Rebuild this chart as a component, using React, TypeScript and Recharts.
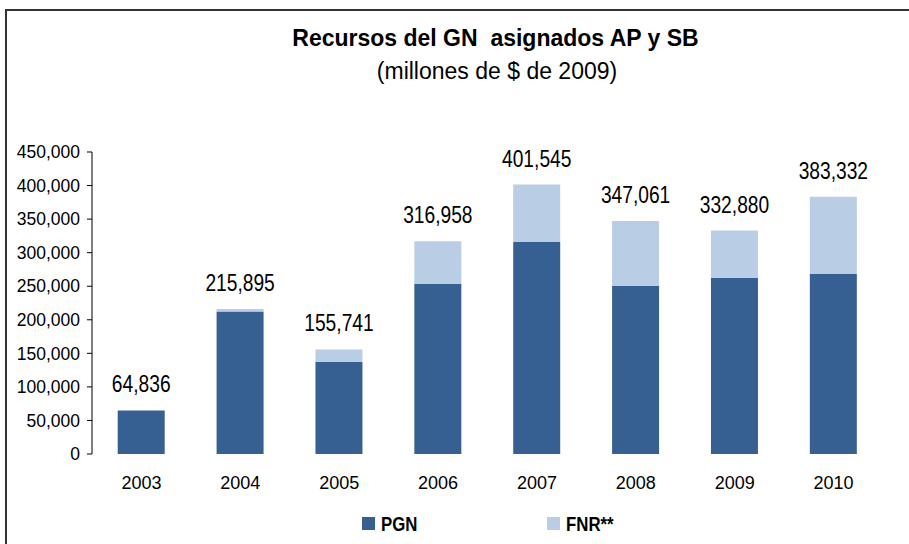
import { Bar, BarChart, LabelList, XAxis, YAxis } from "recharts";

const years = ["2003", "2004", "2005", "2006", "2007", "2008", "2009", "2010"];
const pgn = [64836, 212500, 137500, 253500, 316000, 250800, 262700, 268200];
const totals = [64836, 215895, 155741, 316958, 401545, 347061, 332880, 383332];
const yTicks = [0, 50000, 100000, 150000, 200000, 250000, 300000, 350000, 400000, 450000];
const edgeTicks = [0, 1, 2, 3, 4, 5, 6, 7, 8];

const PGN_COLOR = "#376092";
const FNR_COLOR = "#b9cde5";
const FONT = '"Liberation Sans", Arial, sans-serif';

const data = years.map((y, i) => ({
  year: y,
  pgn: pgn[i],
  fnr: totals[i] - pgn[i],
  total: totals[i],
}));

const fmt = (v: number) => v.toLocaleString("en-US");

// total label sits above the whole stack; drawn from the PGN bar so 2003 (no FNR) gets one too
function TotalLabel(props: any) {
  const { x, y, width, height, index } = props;
  const pxPerUnit = height / pgn[index];
  const top = y - (totals[index] - pgn[index]) * pxPerUnit;
  const cx = x + width / 2;
  const cy = top - 18;
  return (
    <text
      transform={`translate(${cx},${cy}) scale(0.8,1)`}
      x={0}
      y={0}
      textAnchor="middle"
      fill="#000"
      fontSize={24}
      fontFamily={FONT}
    >
      {fmt(totals[index])}
    </text>
  );
}

export default function App() {
  return (
    <div
      style={{
        position: "absolute",
        left: 0,
        top: 0,
        width: 909,
        height: 544,
        background: "#fff",
        overflow: "hidden",
        fontFamily: FONT,
      }}
    >
      {/* frame, only top and left edges show */}
      <div
        style={{
          position: "absolute",
          left: 5,
          top: 9,
          width: 920,
          height: 560,
          borderTop: "2px solid #333",
          borderLeft: "2px solid #333",
        }}
      />
      <div
        style={{
          position: "absolute",
          left: 0,
          width: 991,
          top: 25,
          textAlign: "center",
          fontSize: 23,
          fontWeight: "bold",
          color: "#000",
          whiteSpace: "pre",
        }}
      >
        {"Recursos del GN  asignados AP y SB"}
      </div>
      <div
        style={{
          position: "absolute",
          left: 0,
          width: 994,
          top: 58,
          textAlign: "center",
          fontSize: 23,
          color: "#000",
        }}
      >
        (millones de $ de 2009)
      </div>

      <BarChart
        width={909}
        height={544}
        data={data}
        margin={{ top: 152, right: 26, bottom: 60, left: 0 }}
        barCategoryGap="26%"
        style={{ position: "absolute", left: 0, top: 0 }}
      >
        <XAxis
          xAxisId="edge"
          type="number"
          domain={[0, 8]}
          ticks={edgeTicks}
          interval={0}
          tick={false}
          tickSize={5}
          height={0}
          axisLine={{ stroke: "#000" }}
          tickLine={{ stroke: "#000" }}
        />
        <XAxis
          dataKey="year"
          axisLine={false}
          tickLine={false}
          tickSize={6}
          tickMargin={16}
          height={30}
          tick={{ fill: "#000", fontSize: 18, fontFamily: FONT }}
        />
        <YAxis
          width={92}
          domain={[0, 450000]}
          ticks={yTicks}
          interval={0}
          tickFormatter={fmt}
          tickSize={5}
          tickMargin={7}
          axisLine={{ stroke: "#000" }}
          tickLine={{ stroke: "#000" }}
          tick={{ fill: "#000", fontSize: 17.5, fontFamily: FONT }}
        />
        <Bar dataKey="pgn" stackId="a" fill={PGN_COLOR} isAnimationActive={false}>
          <LabelList dataKey="total" content={TotalLabel} />
        </Bar>
        <Bar dataKey="fnr" stackId="a" fill={FNR_COLOR} isAnimationActive={false} />
      </BarChart>

      {/* legend */}
      <div style={{ position: "absolute", left: 362, top: 517, width: 13, height: 13, background: PGN_COLOR }} />
      <div
        style={{
          position: "absolute",
          left: 381,
          top: 512,
          fontSize: 21,
          fontWeight: "bold",
          color: "#000",
          transform: "scaleX(0.8)",
          transformOrigin: "left top",
        }}
      >
        PGN
      </div>
      <div style={{ position: "absolute", left: 547, top: 517, width: 13, height: 13, background: FNR_COLOR }} />
      <div
        style={{
          position: "absolute",
          left: 566,
          top: 512,
          fontSize: 21,
          fontWeight: "bold",
          color: "#000",
          transform: "scaleX(0.8)",
          transformOrigin: "left top",
        }}
      >
        FNR**
      </div>
    </div>
  );
}
